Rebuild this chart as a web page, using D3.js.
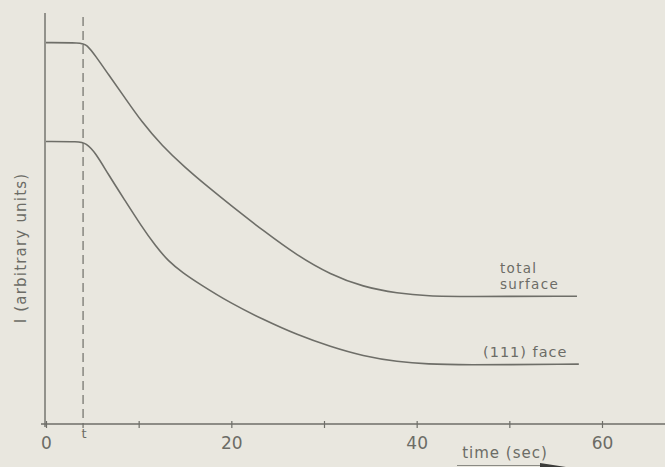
<!DOCTYPE html>
<html><head><meta charset="utf-8">
<script src="https://cdn.jsdelivr.net/npm/d3@7"></script>
<style>
html,body{margin:0;padding:0;background:#e9e7df;}
svg{display:block;}
text{font-family:"DejaVu Sans",sans-serif;fill:#6c6c66;}
</style></head><body>
<script>
// Data (time in sec, intensity in arbitrary units)
const totalTime  = [0, 3.8, 4.4, 5.3, 6.7, 8.5, 10.3, 12.5, 15.0, 17.5, 20.0, 23.5, 27.1, 30.7, 34.2, 37.9, 41.4, 44.7, 57.3];
const totalVal   = [93.7, 93.7, 93.2, 90.6, 86.0, 80.2, 74.3, 68.4, 63.0, 58.2, 53.6, 47.4, 41.4, 36.7, 33.7, 32.1, 31.4, 31.3, 31.4];
const faceTime   = [0, 3.6, 4.3, 5.3, 6.7, 8.5, 10.3, 11.8, 13.2, 14.8, 16.5, 19.9, 23.5, 27.1, 30.7, 34.2, 37.9, 41.4, 44.3, 57.5];
const faceVal    = [69.4, 69.4, 69.0, 66.8, 61.4, 55.0, 48.6, 43.8, 40.0, 37.1, 34.5, 29.7, 25.6, 21.9, 19.0, 16.7, 15.3, 14.7, 14.5, 14.7];
const xTicks     = [0, 10, 20, 30, 40, 50, 60];
const xTickLabels= ["0", "", "20", "", "40", "", "60"];
const markerT    = 4;

const W = 665, H = 467;
const svg = d3.select("body").append("svg").attr("width", W).attr("height", H);

const x = d3.scaleLinear().domain([0, 60]).range([46, 602]);
const y = d3.scaleLinear().domain([0, 100]).range([424, 17]);
const ink = "#6e6e68";

// x axis
const xAxis = d3.axisBottom(x).tickValues(xTicks).tickFormat((d,i)=>xTickLabels[i]).tickSize(4).tickPadding(9);
const gx = svg.append("g").attr("transform", `translate(0,${y(0)})`).call(xAxis);
gx.select(".domain").remove();
gx.append("line").attr("x1", 41).attr("x2", W).attr("y1", 0).attr("y2", 0).attr("stroke", ink).attr("stroke-width", 1.4);
gx.selectAll(".tick line").attr("stroke", ink).attr("stroke-width", 1.2).attr("y1", -3);
gx.selectAll(".tick text").style("font-size", "17px").style("font-family", "DejaVu Sans, sans-serif").attr("fill", "#6c6c66");

// y axis line
svg.append("line").attr("x1", x(0)-1).attr("x2", x(0)-1).attr("y1", y(0)+3).attr("y2", y(101))
  .attr("stroke", ink).attr("stroke-width", 1.4);

// dashed marker
svg.append("line").attr("x1", x(markerT)).attr("x2", x(markerT)).attr("y1", y(100)).attr("y2", y(0)+4)
  .attr("stroke", ink).attr("stroke-width", 1.2).attr("stroke-dasharray", "9,5");
svg.append("text").attr("x", x(markerT)+1).attr("y", y(0)+14).attr("text-anchor", "middle")
  .style("font-size", "13px").text("t");

// curves
const line = d3.line().x(d=>x(d[0])).y(d=>y(d[1])).curve(d3.curveBasis);
svg.append("path").datum(totalTime.map((t,i)=>[t,totalVal[i]]))
  .attr("d", line).attr("fill", "none").attr("stroke", ink).attr("stroke-width", 1.6);
svg.append("path").datum(faceTime.map((t,i)=>[t,faceVal[i]]))
  .attr("d", line).attr("fill", "none").attr("stroke", ink).attr("stroke-width", 1.6);

// curve labels
svg.append("text").attr("x", 500).attr("y", 273).style("font-size","13.5px").style("letter-spacing","1.3px").text("total");
svg.append("text").attr("x", 500).attr("y", 289).style("font-size","13.5px").style("letter-spacing","1.3px").text("surface");
svg.append("text").attr("x", 483).attr("y", 357).style("font-size","14.5px").style("letter-spacing","1px").text("(111) face");

// axis titles
svg.append("text").attr("x", 505).attr("y", 458).attr("text-anchor", "middle")
  .style("font-size", "15px").style("letter-spacing","1px").text("time (sec)");
svg.append("text").attr("transform", `translate(26,248) rotate(-90)`).attr("text-anchor", "middle")
  .style("font-size", "15px").style("letter-spacing","1.2px").text("I (arbitrary units)");

// arrow under the axis title
svg.append("line").attr("x1", 457).attr("x2", 545).attr("y1", 465.5).attr("y2", 465.5)
  .attr("stroke", "#8a8a84").attr("stroke-width", 1);
svg.append("path").attr("d", "M540,463 L566,467 L540,467 Z").attr("fill", "#3c3c3a");
</script>
</body></html>
